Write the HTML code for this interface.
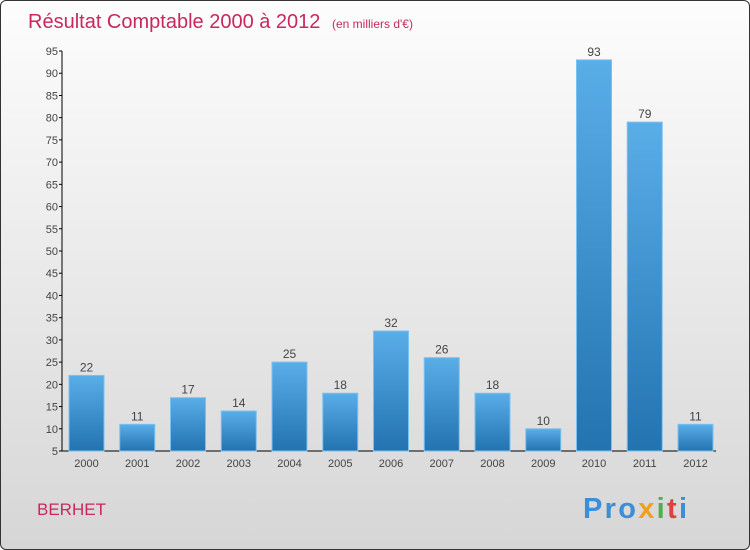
<!DOCTYPE html>
<html><head><meta charset="utf-8"><style>
body{margin:0;width:750px;height:550px;overflow:hidden;font-family:"Liberation Sans",sans-serif}
#wrap{position:absolute;left:0;top:0;width:748px;height:548px;border:1px solid #333;border-radius:6px;background:linear-gradient(#fdfdfd,#d6d6d6);overflow:hidden}
</style></head><body>
<div id="wrap">
<svg width="750" height="550">
<defs><linearGradient id="bg" x1="0" y1="0" x2="0" y2="1"><stop offset="0" stop-color="#5aaee8"/><stop offset="1" stop-color="#2273b0"/></linearGradient></defs>
<text x="27" y="27" font-size="20" fill="#c8285e">Résultat Comptable 2000 à 2012 <tspan font-size="12" dx="6">(en milliers d'€)</tspan></text>
<text x="36" y="514" font-size="17" fill="#c8285e">BERHET</text>
<text x="582" y="517" font-size="29" font-weight="bold" fill="#3a8fd8" textLength="104">Pro<tspan fill="#f0a020">x</tspan><tspan fill="#4cb050">i</tspan><tspan fill="#e04040">t</tspan><tspan fill="#3a8fd8">i</tspan></text>
<g id="axes"></g><g id="bars"></g>
</svg></div>
<script>
const years=["2000","2001","2002","2003","2004","2005","2006","2007","2008","2009","2010","2011","2012"];
const values=[22,11,17,14,25,18,32,26,18,10,93,79,11];
const ticks=[5,10,15,20,25,30,35,40,45,50,55,60,65,70,75,80,85,90,95];
const NS="http://www.w3.org/2000/svg";
function y(v){return 450-(v-5)*400/90;}
function x(i){return 68+i*50.75;}
const bw=35;
const ax=document.getElementById('axes'),bg=document.getElementById('bars');
function mk(t,a,p){const e=document.createElementNS(NS,t);for(const k in a)e.setAttribute(k,a[k]);p.appendChild(e);return e;}
const yl=mk('line',{x1:61,y1:50,x2:61,y2:450,stroke:'#000'},ax);


const xl=mk('line',{x1:61,y1:450,x2:715,y2:450,stroke:'#000'},ax);


ticks.forEach(t=>{
 mk('line',{x1:58,x2:61,y1:y(t),y2:y(t),stroke:'#000'},ax);
 const tx=mk('text',{x:57,y:y(t)+4,'font-size':11,fill:'#444','text-anchor':'end'},ax);tx.textContent=t;
 
 
});
years.forEach((yr,i)=>{
 const v=values[i];
 const r=mk('rect',{x:x(i),y:y(v),width:bw,height:450-y(v),fill:'url(#bg)',stroke:'#7cc0f0','stroke-width':1},bg);
 
 
 const l=mk('text',{x:x(i)+bw/2,y:y(v)-4,'font-size':12,fill:'#444','text-anchor':'middle'},bg);l.textContent=v;
 
 
 const xt=mk('text',{x:x(i)+bw/2,y:466,'font-size':11,fill:'#444','text-anchor':'middle'},bg);xt.textContent=yr;
 
 
});
</script>
</body></html>
